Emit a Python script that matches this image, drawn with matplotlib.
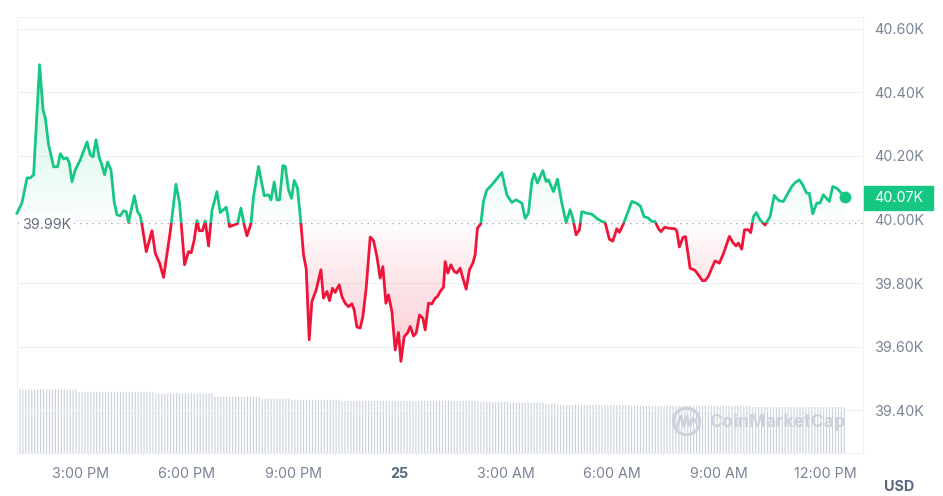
import numpy as np
import matplotlib.pyplot as plt
from matplotlib.patches import Rectangle
from matplotlib.path import Path
from matplotlib.lines import Line2D
from matplotlib.colors import to_rgb
from matplotlib.transforms import blended_transform_factory

plt.rcParams['font.family'] = ['Inter', 'DejaVu Sans']

# time in hours since midnight of the 24th, price in thousands USD
hours = [13.215, 13.356, 13.497, 13.590, 13.683, 13.853, 13.948, 14.013, 14.106, 14.247,
         14.360, 14.436, 14.529, 14.625, 14.690, 14.766, 14.859, 15.000, 15.189, 15.282,
         15.358, 15.443, 15.536, 15.592, 15.685, 15.770, 15.866, 15.959, 16.035, 16.128,
         16.221, 16.297, 16.362, 16.523, 16.616, 16.692, 16.740, 16.861, 17.022, 17.115,
         17.236, 17.349, 17.537, 17.698, 17.800, 17.941, 18.053, 18.129, 18.214, 18.290,
         18.355, 18.448, 18.524, 18.617, 18.713, 18.854, 18.947, 19.116, 19.209, 19.435,
         19.531, 19.624, 19.700, 19.813, 19.886, 20.027, 20.188, 20.309, 20.377, 20.470,
         20.546, 20.619, 20.715, 20.780, 20.873, 20.957, 21.033, 21.126, 21.222, 21.296,
         21.372, 21.456, 21.532, 21.654, 21.786, 21.859, 21.955, 22.029, 22.113, 22.189,
         22.302, 22.378, 22.471, 22.564, 22.660, 22.725, 22.801, 22.894, 22.970, 23.063,
         23.176, 23.269, 23.365, 23.458, 23.534, 23.619, 23.692, 23.788, 23.881, 23.974,
         24.042, 24.135, 24.228, 24.304, 24.397, 24.473, 24.566, 24.662, 24.727, 24.820,
         24.916, 25.009, 25.073, 25.150, 25.243, 25.291, 25.367, 25.451, 25.544, 25.620,
         25.713, 25.790, 25.883, 25.976, 26.071, 26.136, 26.201, 26.297, 26.370, 26.466,
         26.607, 26.889, 27.030, 27.171, 27.292, 27.453, 27.546, 27.639, 27.735, 27.800,
         27.893, 28.045, 28.138, 28.203, 28.344, 28.457, 28.581, 28.702, 28.815, 28.891,
         28.984, 29.077, 29.144, 29.285, 29.426, 29.567, 29.708, 29.801, 29.923, 30.018,
         30.131, 30.205, 30.317, 30.413, 30.554, 30.695, 30.797, 30.901, 31.022, 31.118,
         31.211, 31.310, 31.380, 31.479, 31.586, 31.775, 31.823, 31.896, 31.998, 32.071,
         32.198, 32.339, 32.432, 32.545, 32.621, 32.714, 32.810, 32.903, 33.024, 33.137,
         33.306, 33.419, 33.495, 33.560, 33.655, 33.734, 33.842, 33.909, 33.983, 34.067,
         34.171, 34.312, 34.453, 34.572, 34.707, 34.828, 35.065, 35.158, 35.279, 35.375,
         35.488, 35.561, 35.657, 35.770, 35.863, 35.956, 36.125, 36.221, 36.334, 36.427,
         36.568]
price = [40.020, 40.053, 40.131, 40.131, 40.141, 40.487, 40.345, 40.320, 40.235, 40.166,
         40.166, 40.207, 40.191, 40.194, 40.178, 40.119, 40.156, 40.188, 40.244, 40.204,
         40.197, 40.251, 40.194, 40.178, 40.141, 40.181, 40.156, 40.053, 40.015, 40.012,
         40.028, 40.025, 39.991, 40.075, 40.025, 40.012, 39.983, 39.899, 39.965, 39.894,
         39.863, 39.818, 39.962, 40.111, 40.052, 39.858, 39.899, 39.896, 39.936, 39.997,
         39.965, 39.965, 39.996, 39.917, 40.028, 40.088, 40.022, 40.039, 39.978, 39.987,
         40.036, 39.983, 39.949, 39.987, 40.072, 40.167, 40.075, 40.078, 40.062, 40.118,
         40.062, 40.062, 40.170, 40.167, 40.093, 40.067, 40.123, 40.099, 39.989, 39.889,
         39.845, 39.622, 39.742, 39.779, 39.842, 39.753, 39.774, 39.745, 39.784, 39.771,
         39.795, 39.758, 39.737, 39.726, 39.735, 39.716, 39.662, 39.659, 39.695, 39.784,
         39.945, 39.934, 39.884, 39.816, 39.852, 39.737, 39.763, 39.711, 39.590, 39.645,
         39.554, 39.632, 39.643, 39.664, 39.634, 39.643, 39.700, 39.690, 39.653, 39.737,
         39.735, 39.753, 39.758, 39.774, 39.787, 39.868, 39.832, 39.858, 39.837, 39.832,
         39.847, 39.816, 39.781, 39.842, 39.863, 39.889, 39.973, 39.987, 40.057, 40.093,
         40.109, 40.148, 40.078, 40.054, 40.062, 40.052, 40.004, 40.020, 40.120, 40.144,
         40.115, 40.154, 40.120, 40.125, 40.088, 40.127, 40.052, 39.991, 40.031, 40.004,
         39.952, 39.968, 40.025, 40.020, 40.017, 40.004, 39.994, 39.991, 39.938, 39.932,
         39.971, 39.960, 39.986, 40.015, 40.057, 40.051, 40.042, 40.009, 40.005, 39.994,
         39.994, 39.971, 39.962, 39.976, 39.973, 39.971, 39.964, 39.914, 39.944, 39.946,
         39.847, 39.840, 39.826, 39.808, 39.808, 39.821, 39.847, 39.870, 39.863, 39.892,
         39.947, 39.926, 39.917, 39.926, 39.907, 39.968, 39.968, 39.959, 40.009, 40.022,
         39.999, 39.983, 40.009, 40.076, 40.059, 40.057, 40.104, 40.116, 40.125, 40.109,
         40.083, 40.083, 40.018, 40.052, 40.052, 40.078, 40.057, 40.104, 40.099, 40.088,
         40.072]
baseline = 39.99
last_price = 40.07

# 24h volume (billions USD), stepped: level starts at the given hour
vol_start_hours = [13.2, 14.94, 17.12, 18.72, 20.08, 20.92, 22.33, 26.14, 27.12, 28.11, 28.39, 30.51, 33.89]
vol_level = [15.9, 15.3, 14.9, 14.1, 13.6, 13.3, 13.0, 12.8, 12.6, 12.3, 12.0, 11.8, 11.5]

price_ticks = [39.4, 39.6, 39.8, 40.0, 40.2, 40.4, 40.6]
time_ticks = [15, 18, 21, 24, 27, 30, 33, 36]
time_labels = ['3:00 PM', '6:00 PM', '9:00 PM', '25', '3:00 AM', '6:00 AM', '9:00 AM', '12:00 PM']

GREEN = '#16c784'
RED = '#ef1539'
GREY = '#7a8396'
LIGHT = '#eff1f4'
FS = 10.3

fig = plt.figure(figsize=(9.43, 4.96), dpi=100)
pos = [17 / 943, 43 / 496, 846 / 943, 436 / 496]
xlim = (13.215, 37.075)
ylim = (39.266, 40.637)

# volume bars, behind the price axes
vax = fig.add_axes(pos)
vax.set_xlim(xlim)
vax.set_ylim(0, max(vol_level) * 436 / 63.5)
vax.axis('off')
bar_t = np.arange(hours[0], hours[-1], 1 / 12)
idx = np.searchsorted(vol_start_hours, bar_t, side='right') - 1
bar_v = np.array(vol_level)[idx]
bars = vax.bar(bar_t, bar_v, width=1 / 12 * 0.4, color='#ccd2dc', linewidth=0, align='center')
for b in bars:
    b.set_snap(False)

ax = fig.add_axes(pos)
ax.patch.set_alpha(0)
ax.set_xlim(xlim)
ax.set_ylim(ylim)

xs = np.array(hours)
ys = np.array(price)

# gradient fill between line and baseline
fill = ax.fill_between(xs, ys, baseline, facecolor='none', edgecolor='none')
clip = Path.make_compound_path(*fill.get_paths())
n = 400
yy = np.linspace(ylim[0], ylim[1], n)
img = np.zeros((n, 1, 4))
g = np.array(to_rgb(GREEN))
r = np.array(to_rgb(RED))
for i, v in enumerate(yy):
    if v >= baseline:
        img[i, 0, :3] = g
        img[i, 0, 3] = 0.2 * min((v - baseline) / 0.45, 1) ** 0.8
    else:
        img[i, 0, :3] = r
        img[i, 0, 3] = 0.21 * min((baseline - v) / 0.42, 1) ** 0.8
im = ax.imshow(img, extent=[xlim[0], xlim[1], ylim[0], ylim[1]], origin='lower',
               aspect='auto', zorder=1, interpolation='bilinear')
im.set_clip_path(clip, ax.transData)

# baseline
ax.axhline(baseline, color='#a3aab8', lw=1, ls=(0, (1, 3.5)), zorder=2)
ax.text(0.006, baseline - 0.006, '39.99K', transform=blended_transform_factory(ax.transAxes, ax.transData),
        ha='left', va='center', fontsize=FS, color='#646e82', zorder=3,
        bbox=dict(facecolor='white', edgecolor='none', pad=2))

# price line, green above baseline, red below
for color, y0, y1 in [(GREEN, baseline, 41.5), (RED, 38.5, baseline)]:
    ln, = ax.plot(xs, ys, color=color, lw=2.0, solid_joinstyle='round', zorder=4)
    ln.set_clip_path(Rectangle((10, y0), 30, y1 - y0, transform=ax.transData))
ax.plot(xs[-1], ys[-1], 'o', ms=7.5, color=GREEN, zorder=5)

# axes styling
ax.set_yticks(price_ticks, [f'{v:.2f}K' for v in price_ticks])
ax.yaxis.tick_right()
ax.set_xticks(time_ticks, time_labels)
ax.tick_params(axis='y', length=0, pad=8, labelsize=FS, labelcolor=GREY)
ax.tick_params(axis='x', length=0, pad=10, labelsize=FS, labelcolor=GREY)
ax.get_xticklabels()[3].set_fontweight('bold')
ax.get_xticklabels()[3].set_color('#58667e')
ax.grid(axis='y', color=LIGHT, lw=1)
ax.set_axisbelow(True)
for s in ax.spines.values():
    s.set_color(LIGHT)

# current price badge
bt = blended_transform_factory(ax.transAxes, ax.transData)
ax.add_patch(Rectangle((1.001, last_price - 0.039), 0.082, 0.076, transform=bt,
                       color=GREEN, clip_on=False, zorder=6))
ax.text(1.042, last_price - 0.002, f'{last_price:.2f}K', transform=bt, ha='center', va='center',
        fontsize=FS, color='white', zorder=7)

fig.text(899 / 943, 1 - 487 / 496, 'USD', ha='center', va='center', fontsize=FS,
         fontweight='bold', color='#58667e')

# watermark
wm = '#cdd2dc'
fig.add_artist(Line2D([686 / 943], [1 - 421 / 496], marker='o', ms=19, mfc='none', mec=wm, mew=2.2,
                      transform=fig.transFigure))
zx = np.array([677, 681, 684, 687, 690, 693, 696])
zy = np.array([427, 416, 426, 416, 426, 418, 422])
fig.add_artist(Line2D(zx / 943, 1 - zy / 496, color=wm, lw=2, transform=fig.transFigure))
fig.text(709 / 943, 1 - 422 / 496, 'CoinMarketCap', ha='left', va='center', fontsize=12.8,
         fontweight='bold', color=wm)

fig.savefig('out.png', dpi=100, facecolor='white')
